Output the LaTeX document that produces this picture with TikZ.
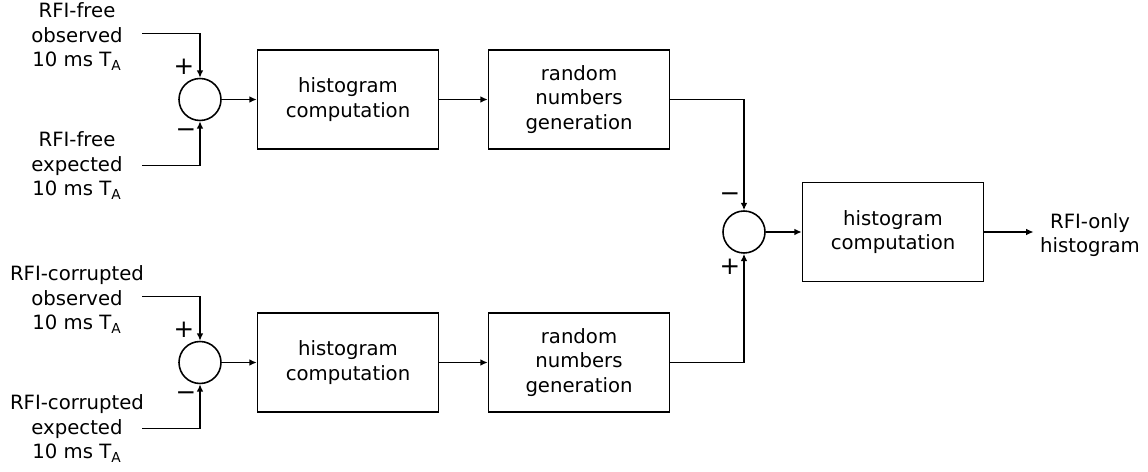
\documentclass[tikz,border=0pt]{standalone}
\usepackage{fontspec}
\setmainfont{DejaVu Sans}
\usetikzlibrary{arrows.meta}
\begin{document}
\begin{tikzpicture}[x=0.02cm,y=-0.02cm,font=\fontsize{11.2}{14}\selectfont,
	blk/.style={draw,line width=0.9pt,minimum width=3.62cm,minimum height=1.98cm,align=center},
	sum/.style={draw,circle,line width=0.9pt,minimum size=0.84cm,inner sep=0pt},
	lbl/.style={align=center},
	sgn/.style={font=\fontsize{14}{14}\selectfont,inner sep=0pt},
	>={Latex[length=4.2pt,width=3.8pt]},line width=0.8pt]
	\useasboundingbox (0,0) rectangle (1148,472);
	% two input rows
	\foreach \r/\yy/\kind in {A/99.5/free,B/362.5/corrupted}{
		\node[sum] (sum\r) at (200,\yy) {};
		\node[blk] (hist\r) at (348,\yy) {histogram\\computation};
		\node[blk] (rand\r) at (579,\yy) {random\\numbers\\generation};
		\node[lbl] (obs\r) at (77,\yy-63) {RFI-\kind\\observed\\10 ms T\textsubscript{A}};
		\node[lbl] (exp\r) at (77,\yy+66) {RFI-\kind\\expected\\10 ms T\textsubscript{A}};
		\coordinate (inO\r) at (142,\yy-66);
		\coordinate (inE\r) at (142,\yy+66);
		\draw[->] (inO\r) -| (sum\r.north);
		\draw[->] (inE\r) -| (sum\r.south);
		\draw[->] (sum\r) -- (hist\r);
		\draw[->] (hist\r) -- (rand\r);
		\node[sgn] (pl\r) at (184,\yy-33) {+};
		\node[sgn] (mi\r) at (186,\yy+34) {−};
	}
	% difference and output
	\node[sum] (sumC) at (744,232) {};
	\node[blk] (histC) at (893,232) {histogram\\computation};
	\node[lbl] (outC) at (1090,235) {RFI-only\\histogram};
	\draw[->] (randA) -| (sumC.north);
	\draw[->] (randB) -| (sumC.south);
	\draw[->] (sumC) -- (histC);
	\draw[->] (histC) -- (histC -| outC.west);
	\node[sgn] (miC) at (730,197) {−};
	\node[sgn] (plC) at (730,267) {+};
\end{tikzpicture}
\end{document}
